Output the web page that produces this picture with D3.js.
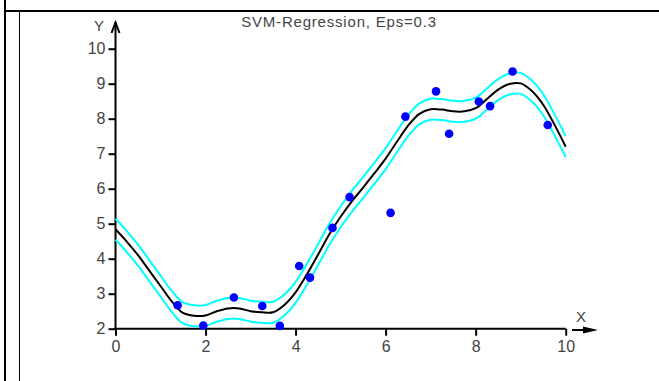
<!DOCTYPE html>
<html>
<head>
<meta charset="utf-8">
<script src="https://cdn.jsdelivr.net/npm/d3@7"></script>
<style>
  body { margin: 0; background: #fff; }
  svg { display: block; }
  text { font-family: "Liberation Sans", Arial, sans-serif; fill: #444; }
</style>
</head>
<body>
<svg id="chart" width="659" height="381"></svg>
<script>
// training samples
const sampleX = [1.38, 1.95, 2.63, 3.26, 3.65, 4.08, 4.32, 4.82, 5.20, 6.11, 6.44, 7.12, 7.41, 8.07, 8.32, 8.82, 9.60];
const sampleY = [2.67, 2.09, 2.89, 2.65, 2.08, 3.79, 3.46, 4.88, 5.76, 5.31, 8.06, 8.78, 7.57, 8.49, 8.36, 9.35, 7.82];

// regression function
const fitX = [0, 0.25, 0.5, 0.75, 1, 1.25, 1.5, 1.75, 2, 2.25, 2.5, 2.75, 3, 3.25, 3.5, 3.75, 4, 4.25, 4.5, 4.75,
              5, 5.25, 5.5, 5.75, 6, 6.25, 6.5, 6.75, 7, 7.25, 7.5, 7.75, 8, 8.25, 8.5, 8.75, 9, 9.25, 9.5, 9.75, 10];
const fitY = [4.84, 4.49, 4.10, 3.66, 3.22, 2.78, 2.45, 2.37, 2.38, 2.50, 2.58, 2.58, 2.50, 2.47, 2.47, 2.68, 3.04, 3.55, 4.12, 4.70,
              5.20, 5.64, 6.03, 6.44, 6.86, 7.34, 7.80, 8.14, 8.27, 8.26, 8.21, 8.21, 8.30, 8.56, 8.83, 8.99, 9.01, 8.79, 8.40, 7.83, 7.20];
const eps = 0.3;

const xTicks = [0, 2, 4, 6, 8, 10];
const yTicks = [2, 3, 4, 5, 6, 7, 8, 9, 10];
const title = "SVM-Regression, Eps=0.3";

const svg = d3.select("#chart");
const x = d3.scaleLinear().domain([0, 10]).range([115.5, 565.7]);
const y = d3.scaleLinear().domain([2, 10]).range([328.7, 48.7]);

// window frame
svg.append("rect").attr("width", 659).attr("height", 381).attr("fill", "#fff");
svg.append("line").attr("x1", 5).attr("x2", 5).attr("y1", 0).attr("y2", 381)
  .attr("stroke", "#000").attr("stroke-width", 2);
svg.append("line").attr("x1", 4).attr("x2", 659).attr("y1", 11).attr("y2", 11)
  .attr("stroke", "#000").attr("stroke-width", 2);
svg.append("line").attr("x1", 19.5).attr("x2", 19.5).attr("y1", 11).attr("y2", 381)
  .attr("stroke", "#000").attr("stroke-width", 1);

// title
svg.append("text").attr("x", 339).attr("y", 27).attr("text-anchor", "middle")
  .style("font-size", "15px").style("letter-spacing", "0.8px").text(title);

// axes
const yAxis = svg.append("g").attr("transform", `translate(${x(0)},0)`)
  .call(d3.axisLeft(y).tickValues(yTicks).tickSize(7).tickSizeOuter(0).tickPadding(3));
const xAxis = svg.append("g").attr("transform", `translate(0,${y(2)})`)
  .call(d3.axisBottom(x).tickValues(xTicks).tickSize(7).tickSizeOuter(0).tickPadding(5));
[xAxis, yAxis].forEach(g => {
  g.select(".domain").remove();
  g.selectAll(".tick line").attr("stroke", "#000").attr("stroke-width", 2);
  g.selectAll(".tick text").style("font-size", "16px").style("fill", "#444").attr("font-family", null);
});

svg.append("line").attr("x1", x(0)).attr("x2", x(0)).attr("y1", y(2) + 1).attr("y2", 22)
  .attr("stroke", "#000").attr("stroke-width", 2);
svg.append("path").attr("d", `M${x(0) - 4},33L${x(0)},22.5L${x(0) + 4},33`)
  .attr("fill", "none").attr("stroke", "#000").attr("stroke-width", 2);
svg.append("line").attr("x1", x(0) - 1).attr("x2", x(10)).attr("y1", y(2)).attr("y2", y(2))
  .attr("stroke", "#000").attr("stroke-width", 2);
svg.append("line").attr("x1", 572).attr("x2", 590).attr("y1", 330).attr("y2", 330)
  .attr("stroke", "#000").attr("stroke-width", 2);
svg.append("path").attr("d", "M583,326.5L598,330L583,333.5Z").attr("fill", "#000");

svg.append("text").attr("x", 99).attr("y", 31).attr("text-anchor", "middle")
  .style("font-size", "15px").text("Y");
svg.append("text").attr("x", 581).attr("y", 322).attr("text-anchor", "middle")
  .style("font-size", "15px").text("X");

// tube and regression line
const fit = fitX.map((v, i) => [v, fitY[i]]);
const line = d3.line().x(d => x(d[0])).y(d => y(d[1])).curve(d3.curveCatmullRom);
[eps, -eps].forEach(e => {
  svg.append("path").datum(fit.map(d => [d[0], d[1] + e])).attr("d", line)
    .attr("fill", "none").attr("stroke", "#00ffff").attr("stroke-width", 2);
});
svg.append("path").datum(fit).attr("d", line)
  .attr("fill", "none").attr("stroke", "#000").attr("stroke-width", 2);

// samples
svg.append("g").selectAll("circle").data(sampleX).join("circle")
  .attr("cx", d => x(d)).attr("cy", (d, i) => y(sampleY[i])).attr("r", 4.3)
  .attr("fill", "#0000ff");
</script>
</body>
</html>
